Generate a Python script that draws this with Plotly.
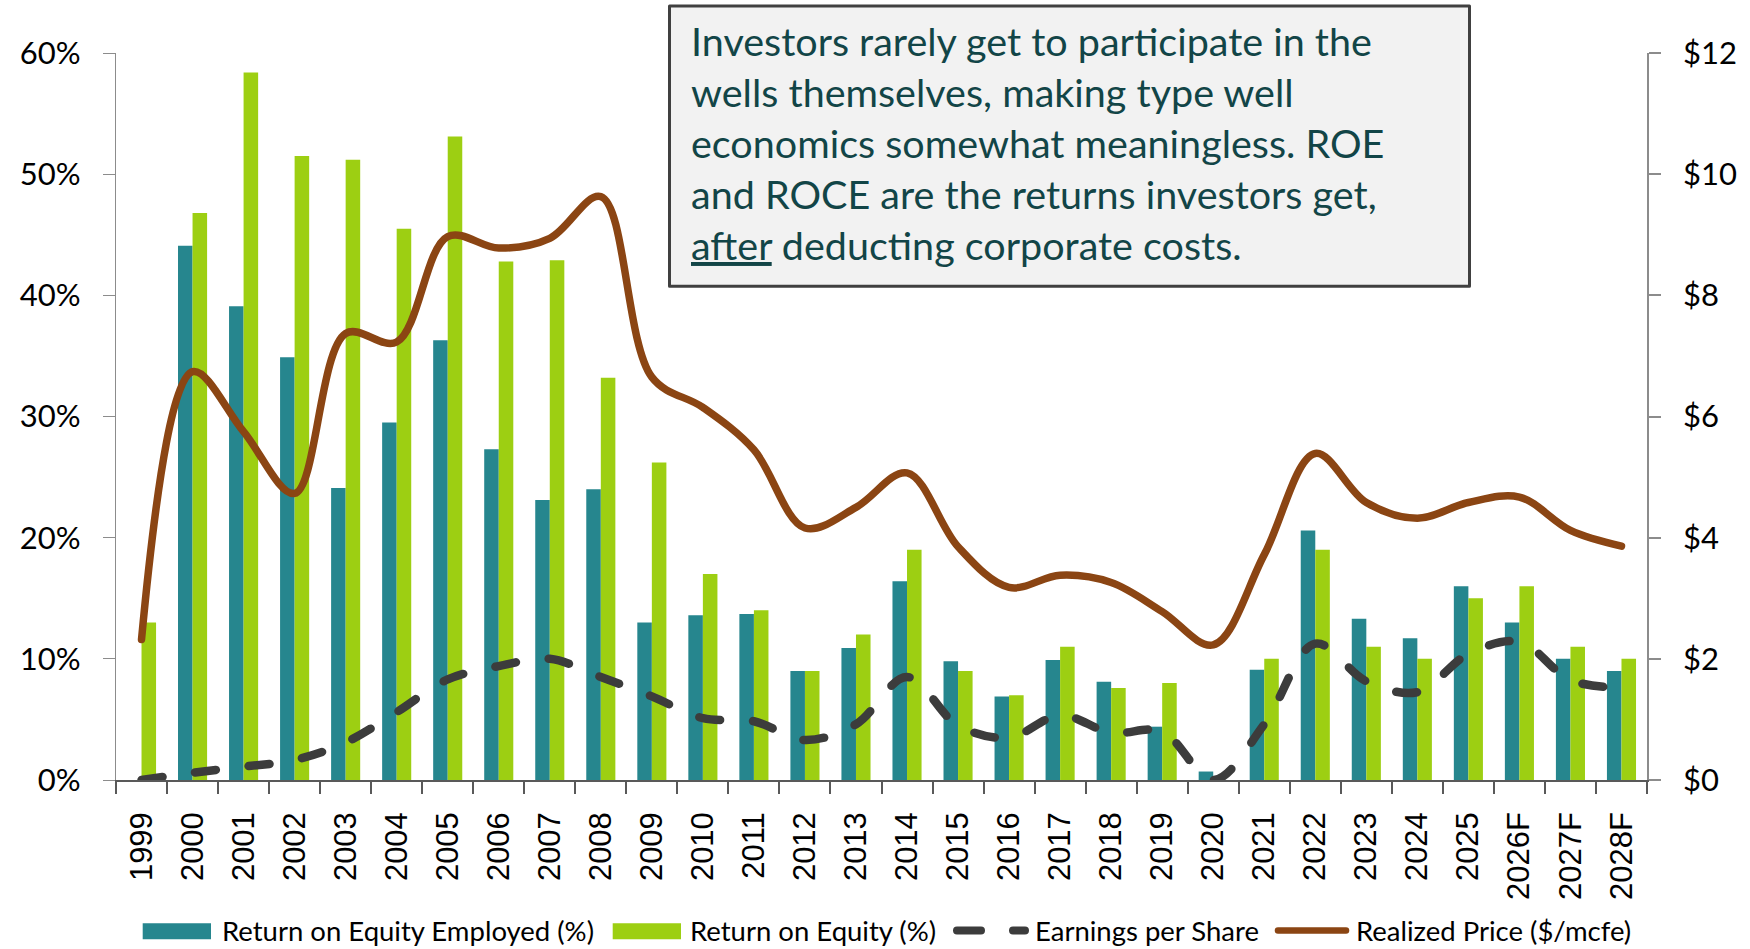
import plotly.graph_objects as go

# ---- data -------------------------------------------------------------
years = ["1999", "2000", "2001", "2002", "2003", "2004", "2005", "2006",
         "2007", "2008", "2009", "2010", "2011", "2012", "2013", "2014",
         "2015", "2016", "2017", "2018", "2019", "2020", "2021", "2022",
         "2023", "2024", "2025", "2026F", "2027F", "2028F"]

roce_pct = [-0.2, 44.1, 39.1, 34.9, 24.1, 29.5, 36.3, 27.3, 23.1, 24.0,
            13.0, 13.6, 13.7, 9.0, 10.9, 16.4, 9.8, 6.9, 9.9, 8.1,
            4.4, 0.7, 9.1, 20.6, 13.3, 11.7, 16.0, 13.0, 10.0, 9.0]

roe_pct = [13.0, 46.8, 58.4, 51.5, 51.2, 45.5, 53.1, 42.8, 42.9, 33.2,
           26.2, 17.0, 14.0, 9.0, 12.0, 19.0, 9.0, 7.0, 11.0, 7.6,
           8.0, -0.2, 10.0, 19.0, 11.0, 10.0, 15.0, 16.0, 11.0, 10.0]

eps_usd = [0.0, 0.12, 0.22, 0.33, 0.62, 1.12, 1.66, 1.88, 2.0, 1.7,
           1.38, 1.02, 0.97, 0.66, 0.92, 1.7, 0.9, 0.7, 1.07, 0.78,
           0.8, 0.0, 0.92, 2.25, 1.63, 1.45, 2.08, 2.28, 1.65, 1.52]

price_usd = [2.32, 6.74, 5.75, 4.73, 7.37, 7.23, 8.97, 8.78, 8.94, 9.63,
             6.65, 6.15, 5.45, 4.16, 4.5, 5.07, 3.85, 3.18, 3.38, 3.26,
             2.78, 2.23, 3.72, 5.39, 4.58, 4.32, 4.58, 4.67, 4.12, 3.86]

pct_ticks = [0, 10, 20, 30, 40, 50, 60]
pct_labels = ["0%", "10%", "20%", "30%", "40%", "50%", "60%"]
usd_ticks = [0, 2, 4, 6, 8, 10, 12]
usd_labels = ["$0", "$2", "$4", "$6", "$8", "$10", "$12"]

series_names = ["Return on Equity Employed (%)", "Return on Equity (%)",
                "Earnings per Share", "Realized Price ($/mcfe)"]

note_lines = [
    "Investors rarely get to participate in the",
    "wells themselves, making type well",
    "economics somewhat meaningless. ROE",
    "and ROCE are the returns investors get,",
    "<u>after</u> deducting corporate costs.",
]

# ---- styling ----------------------------------------------------------
TEAL = "#26868E"
LIME = "#9DCF12"
DARK = "#3C3C3C"
BROWN = "#8B4513"
NOTE_COLOR = "#124547"
FONT = "Lato"

W, H = 1750, 949
M_L, M_R, M_T, M_B = 116, 103, 52.5, 169
PLOT_W = W - M_L - M_R
PLOT_H = H - M_T - M_B


def fx(px):
    """pixel x -> paper x"""
    return (px - M_L) / PLOT_W


def fy(py):
    """pixel y (from top) -> paper y"""
    return (H - M_B - py) / PLOT_H


fig = go.Figure()

fig.add_bar(x=years, y=roce_pct, name=series_names[0],
            marker=dict(color=TEAL, line=dict(width=0)))
fig.add_bar(x=years, y=roe_pct, name=series_names[1],
            marker=dict(color=LIME, line=dict(width=0)))
fig.add_scatter(x=years, y=eps_usd, name=series_names[2], yaxis="y2",
                mode="lines",
                line=dict(color=DARK, width=8.5, dash="21px,33px",
                          shape="spline", smoothing=1))
fig.add_scatter(x=years, y=price_usd, name=series_names[3], yaxis="y2",
                mode="lines",
                line=dict(color=BROWN, width=7.5, shape="spline", smoothing=1))

fig.update_layout(
    width=W, height=H,
    margin=dict(l=M_L, r=M_R, t=M_T, b=M_B, pad=0),
    paper_bgcolor="white", plot_bgcolor="white",
    barmode="group", bargap=0.43, bargroupgap=0,
    showlegend=False,
    font=dict(family=FONT, color="black"),
    xaxis=dict(
        type="category", range=[-0.5, len(years) - 0.5],
        tickson="boundaries", ticks="outside", ticklen=12, tickwidth=1.5,
        tickcolor="#595959", showline=True, linecolor="#595959",
        linewidth=1.5, showgrid=False, tickangle=-90,
        tickfont=dict(family="Liberation Sans", size=31, color="black"),
        ticklabelstandoff=18,
    ),
    yaxis=dict(
        range=[0, 60], tickvals=pct_ticks, ticktext=pct_labels,
        ticks="outside", ticklen=12, tickwidth=1.3, tickcolor="#8C8C8C",
        showline=True, linecolor="#8C8C8C", linewidth=1.3,
        showgrid=False, zeroline=False,
        tickfont=dict(family=FONT, size=31, color="black"),
        ticklabelstandoff=16,
    ),
    yaxis2=dict(
        overlaying="y", side="right", range=[0, 12],
        tickvals=usd_ticks, ticktext=usd_labels,
        ticks="outside", ticklen=12, tickwidth=1.5, tickcolor="#8C8C8C",
        showline=True, linecolor="#8C8C8C", linewidth=1.8,
        showgrid=False, zeroline=False,
        tickfont=dict(family=FONT, size=31, color="black"),
        ticklabelstandoff=16,
    ),
)

# ---- call-out box -----------------------------------------------------
fig.add_shape(type="rect", xref="paper", yref="paper", layer="above",
              x0=fx(669.5), x1=fx(1469.5), y0=fy(285.8), y1=fy(5.5),
              line=dict(color="#404040", width=3), fillcolor="#F2F2F2")

for i, line in enumerate(note_lines):
    fig.add_annotation(xref="paper", yref="paper", x=fx(689), y=fy(40 + 51 * i),
                       xanchor="left", yanchor="middle", showarrow=False,
                       align="left", text=line,
                       font=dict(family=FONT, size=39.5, color=NOTE_COLOR))

# ---- legend row -------------------------------------------------------
LEG_Y = 930.5
fig.add_shape(type="rect", xref="paper", yref="paper",
              x0=fx(142.7), x1=fx(211), y0=fy(939.3), y1=fy(923.3),
              line=dict(width=0), fillcolor=TEAL)
fig.add_shape(type="rect", xref="paper", yref="paper",
              x0=fx(612.7), x1=fx(681), y0=fy(939.3), y1=fy(923.3),
              line=dict(width=0), fillcolor=LIME)
fig.add_shape(type="line", xref="paper", yref="paper",
              x0=fx(957), x1=fx(1025), y0=fy(LEG_Y), y1=fy(LEG_Y),
              line=dict(color=DARK, width=8, dash="24px,32px"))
fig.add_shape(type="line", xref="paper", yref="paper",
              x0=fx(1278), x1=fx(1346), y0=fy(LEG_Y), y1=fy(LEG_Y),
              line=dict(color=BROWN, width=6.5))

legend_text_x = [220, 688, 1033, 1354]
for name, x in zip(series_names, legend_text_x):
    fig.add_annotation(xref="paper", yref="paper", x=fx(x), y=fy(LEG_Y),
                       xanchor="left", yanchor="middle", showarrow=False,
                       text=name, font=dict(family=FONT, size=27.5, color="black"))

# rounded line ends for the curves and legend samples
round_caps = """
document.querySelectorAll('path.js-line, .shapelayer path').forEach(function (p) {
    p.style.strokeLinecap = 'round';
    p.style.strokeLinejoin = 'round';
});
"""

fig.write_html("out.html", post_script=round_caps)
